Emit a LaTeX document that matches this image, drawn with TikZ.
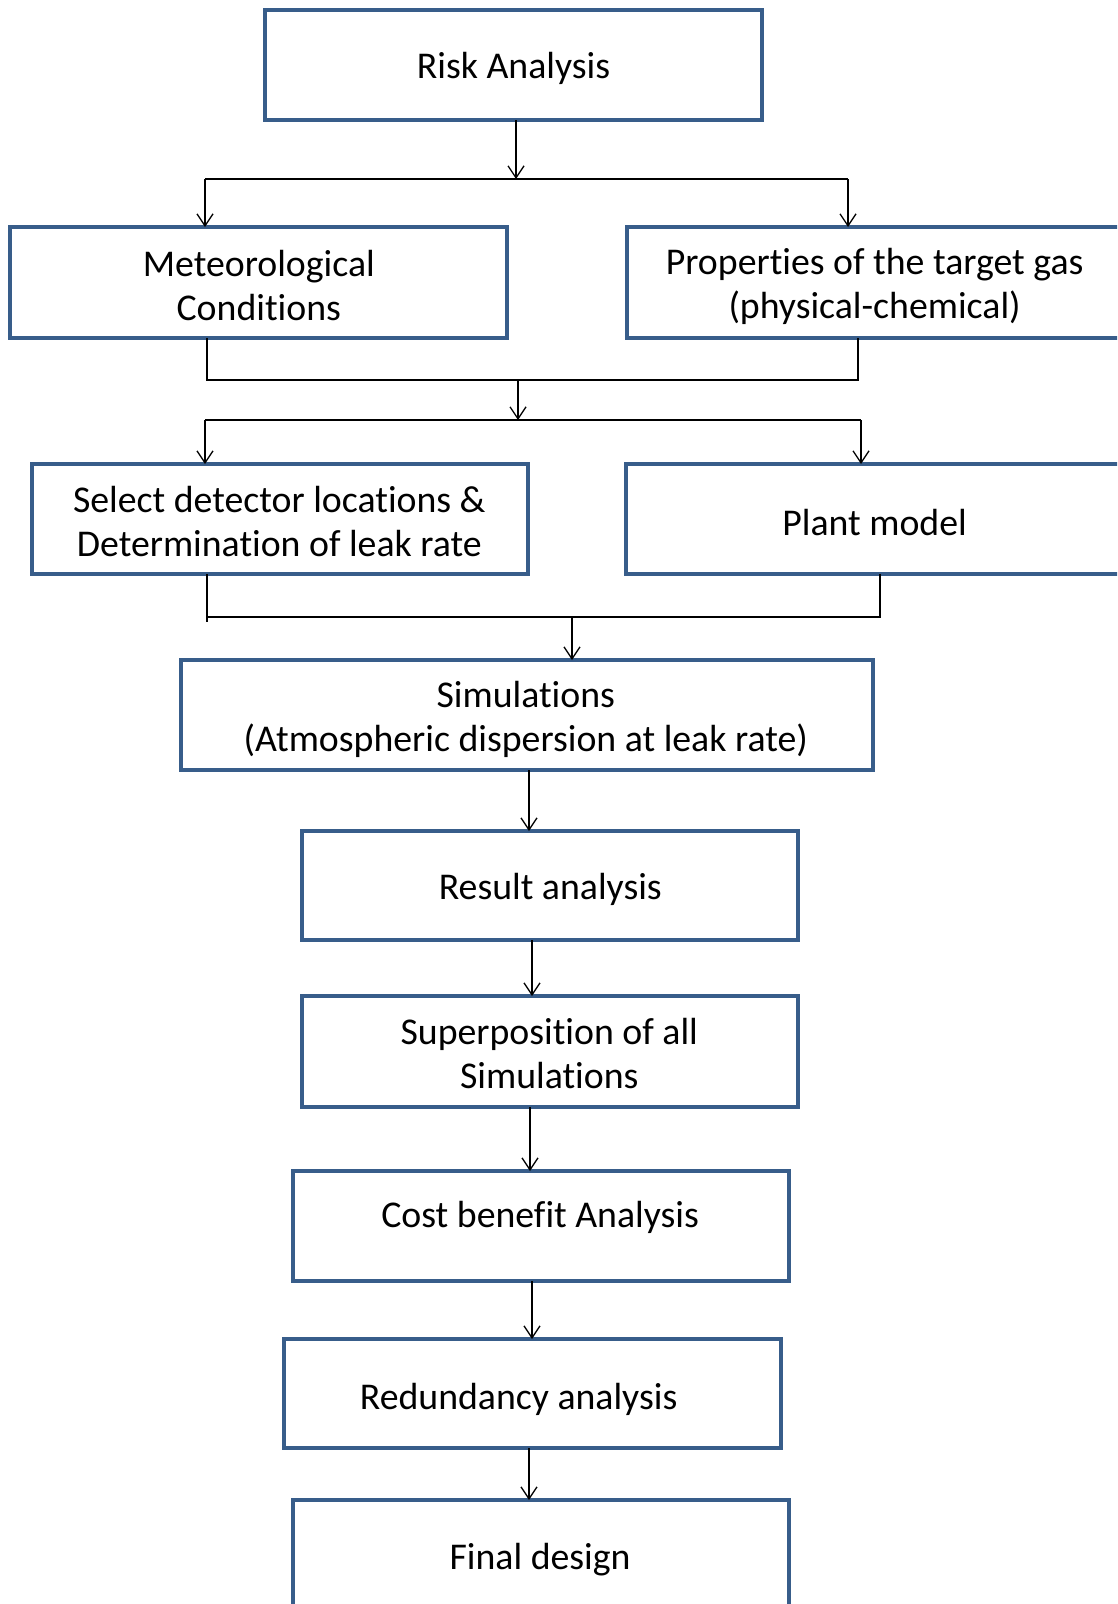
\documentclass[tikz,border=0pt]{standalone}
\usepackage{fontspec}
\setmainfont{Carlito}[Ligatures=NoCommon]
\usetikzlibrary{arrows.meta}
\definecolor{boxblue}{RGB}{56,93,138}
\begin{document}
\begin{tikzpicture}[x=1pt,y=-1pt,
  box/.style={draw=boxblue,line width=4.2pt,rectangle,inner sep=0pt,outer sep=0pt,anchor=north west},
  txt/.style={font=\fontsize{37.8}{44}\selectfont,align=center,inner sep=0pt},
  con/.style={draw=black,line width=1.3pt},
  arr/.style={con,-{Straight Barb[length=12pt,width=16pt,line width=1.3pt]}}]
\useasboundingbox (0,0) rectangle (1117,1604);
\clip (0,0) rectangle (1117,1604);
\fill[white] (0,0) rectangle (1117,1604);
% boxes
\node[box,minimum width=497pt,minimum height=110pt] (ra) at (265,10) {};
\node[box,minimum width=497pt,minimum height=111pt] (met) at (10,227) {};
\node[box,minimum width=497pt,minimum height=111pt] (prop) at (627,227) {};
\node[box,minimum width=496pt,minimum height=110pt] (sel) at (32,464) {};
\node[box,minimum width=497pt,minimum height=110pt] (plant) at (626,464) {};
\node[box,minimum width=692pt,minimum height=110pt] (sim) at (181,660) {};
\node[box,minimum width=496pt,minimum height=109pt] (res) at (302,831) {};
\node[box,minimum width=496pt,minimum height=111pt] (sup) at (302,996) {};
\node[box,minimum width=496pt,minimum height=110pt] (cost) at (293,1171) {};
\node[box,minimum width=497pt,minimum height=109pt] (red) at (284,1339) {};
\node[box,minimum width=496pt,minimum height=130pt] (fin) at (293,1500) {};
% texts
\node[txt] (tra) at (513.5,68) {Risk Analysis};
\node[txt] (tmet) at (258.8,286) {Meteorological\\Conditions};
\node[txt] (tprop) at (874.6,286) {Properties of the target gas\\(physical-chemical)};
\node[txt] (tsel) at (279.3,522) {Select detector locations \&\\Determination of leak rate};
\node[txt] (tplant) at (874.6,523) {Plant model};
\node[txt] (tsim) at (525.8,719) {Simulations\\(Atmospheric dispersion at leak rate)};
\node[txt] (tres) at (550.3,889) {Result analysis};
\node[txt] (tsup) at (549.3,1054) {Superposition of all\\Simulations};
\node[txt] (tcost) at (540.1,1217) {Cost benefit Analysis};
\node[txt] (tred) at (518.6,1399) {Redundancy analysis};
\node[txt] (tfin) at (540.1,1560) {Final design};
% junction coordinates
\coordinate (j1) at (516,179);
\coordinate (j1l) at (205,179);
\coordinate (j1r) at (848,179);
\coordinate (j2l) at (207,380);
\coordinate (j2r) at (858,380);
\coordinate (j2) at (518,380);
\coordinate (j3) at (518,420);
\coordinate (j3l) at (205,420);
\coordinate (j3r) at (861,420);
\coordinate (j4l) at (207,617);
\coordinate (j4le) at (207,622);
\coordinate (j4r) at (880,617);
\coordinate (j4) at (572,617);
% connectors
\draw[arr] (ra.south -| j1) -- (j1);
\draw[con] (j1l) -- (j1r);
\draw[arr] (j1l) -- (met.north -| j1l);
\draw[arr] (j1r) -- (prop.north -| j1r);
\draw[con] (met.south -| j2l) -- (j2l) -- (j2r) -- (prop.south -| j2r);
\draw[arr] (j2) -- (j3);
\draw[con] (j3l) -- (j3r);
\draw[arr] (j3l) -- (sel.north -| j3l);
\draw[arr] (j3r) -- (plant.north -| j3r);
\draw[con] (sel.south -| j4l) -- (j4le);
\draw[con] (j4l) -- (j4r) -- (plant.south -| j4r);
\draw[arr] (j4) -- (sim.north -| j4);
\coordinate (k1) at (529,0);
\draw[arr] (sim.south -| k1) -- (res.north -| k1);
\coordinate (k2) at (532,0);
\draw[arr] (res.south -| k2) -- (sup.north -| k2);
\coordinate (k3) at (530,0);
\draw[arr] (sup.south -| k3) -- (cost.north -| k3);
\draw[arr] (cost.south -| k2) -- (red.north -| k2);
\draw[arr] (red.south -| k1) -- (fin.north -| k1);
\end{tikzpicture}
\end{document}
